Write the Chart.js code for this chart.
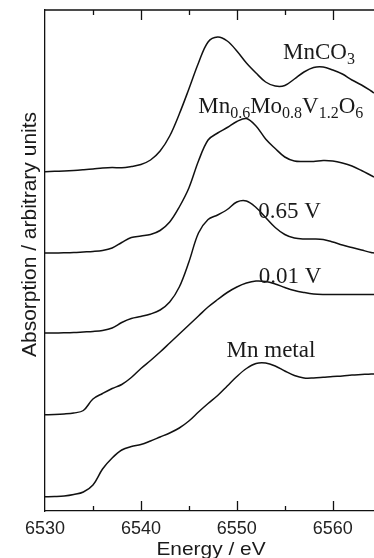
<!DOCTYPE html>
<html>
<head>
<meta charset="utf-8">
<script src="https://cdn.jsdelivr.net/npm/chart.js@4.4.1/dist/chart.umd.min.js"></script>
<style>
  html, body { margin: 0; padding: 0; background: #fff; overflow: hidden; }
  #wrap { width: 374px; height: 558px; }
</style>
</head>
<body>
<div id="wrap"><canvas id="myCanvas"></canvas></div>
<script>
// energy grid (eV), every 1 eV
const energy = [6530, 6531, 6532, 6533, 6534, 6535, 6536, 6537, 6538, 6539,
                6540, 6541, 6542, 6543, 6544, 6545, 6546, 6547, 6548, 6549,
                6550, 6551, 6552, 6553, 6554, 6555, 6556, 6557, 6558, 6559,
                6560, 6561, 6562, 6563, 6564, 6564.3];

// absorption, arbitrary units (curves are offset vertically as in the figure)
const mnco3 = [33.93, 33.97, 34.0, 34.05, 34.12, 34.2, 34.3, 34.35, 34.32, 34.45,
               34.65, 35.1, 36.0, 37.5, 39.7, 42.2, 44.8, 46.9, 47.4, 47.0,
               46.0, 44.8, 43.8, 42.9, 42.5, 42.55, 43.2, 43.9, 44.35, 44.4,
               44.1, 43.7, 43.1, 42.6, 42.0, 41.8];
const mnMoV = [25.8, 25.8, 25.82, 25.85, 25.9, 25.95, 26.05, 26.3, 26.85, 27.35,
               27.5, 27.65, 28.05, 28.9, 30.4, 32.3, 35.0, 37.1, 37.8, 38.35,
               38.95, 39.25, 38.5, 37.2, 36.25, 35.4, 35.0, 34.95, 34.95, 35.05,
               35.0, 34.8, 34.5, 34.05, 33.55, 33.4];
const v065 = [17.8, 17.8, 17.82, 17.85, 17.9, 17.95, 18.05, 18.3, 18.85, 19.25,
              19.45, 19.7, 20.1, 20.9, 22.4, 24.9, 27.8, 29.15, 29.6, 30.15,
              30.9, 31.0, 30.35, 29.35, 28.35, 27.65, 27.3, 27.2, 27.2, 27.15,
              26.9, 26.6, 26.35, 26.1, 25.85, 25.8];
const v001 = [9.63, 9.65, 9.7, 9.8, 10.05, 11.2, 11.75, 12.25, 12.65, 13.35,
              14.25, 15.05, 15.9, 16.8, 17.7, 18.6, 19.5, 20.4, 21.15, 21.85,
              22.4, 22.8, 23.0, 22.95, 22.7, 22.35, 22.05, 21.85, 21.7, 21.65,
              21.65, 21.65, 21.65, 21.65, 21.65, 21.65];
const mnMetal = [1.43, 1.45, 1.5, 1.65, 1.9, 2.6, 4.2, 5.3, 6.1, 6.45,
                 6.65, 7.0, 7.4, 7.8, 8.3, 9.0, 9.9, 10.75, 11.55, 12.5,
                 13.45, 14.25, 14.75, 14.8, 14.5, 14.0, 13.55, 13.3, 13.3, 13.37,
                 13.45, 13.5, 13.6, 13.65, 13.7, 13.7];

const tickLabels = [6530, 6540, 6550, 6560];
const minorTicks = [6535, 6545, 6555];

// curve labels: [text, isSubscript]
const curveLabels = [
  { x: 6554.82, y: 45.25, parts: [["MnCO", 0], ["3", 1]] },
  { x: 6545.97, y: 39.8, parts: [["Mn", 0], ["0.6", 1], ["Mo", 0], ["0.8", 1], ["V", 0], ["1.2", 1], ["O", 0], ["6", 1]] },
  { x: 6552.22, y: 29.3, parts: [["0.65 V", 0]] },
  { x: 6552.29, y: 22.8, parts: [["0.01 V", 0]] },
  { x: 6548.93, y: 15.4, parts: [["Mn metal", 0]] },
];

const toPoints = (arr) => energy.map((e, i) => ({ x: e, y: arr[i] }));
const series = [mnco3, mnMoV, v065, v001, mnMetal];

const decor = {
  id: "decor",
  afterDraw(chart) {
    const { ctx, chartArea: a, scales: { x, y } } = chart;
    ctx.save();
    ctx.strokeStyle = "#111";
    ctx.lineWidth = 1.3;
    ctx.beginPath();
    ctx.moveTo(a.left, a.top);
    ctx.lineTo(a.right, a.top);
    const tick = (v, len) => {
      const px = Math.round(x.getPixelForValue(v)) + 0.5;
      ctx.moveTo(px, a.top);
      ctx.lineTo(px, a.top + len);
      ctx.moveTo(px, a.bottom);
      ctx.lineTo(px, a.bottom - len);
    };
    tickLabels.slice(1).forEach((v) => tick(v, 10));
    minorTicks.forEach((v) => tick(v, 5));
    ctx.stroke();

    ctx.fillStyle = "#1a1a1a";
    ctx.textBaseline = "alphabetic";
    ctx.textAlign = "left";
    curveLabels.forEach((lab) => {
      let px = x.getPixelForValue(lab.x);
      const py = y.getPixelForValue(lab.y);
      lab.parts.forEach(([t, sub]) => {
        ctx.font = sub ? "16px 'Liberation Serif'" : "23px 'Liberation Serif'";
        ctx.fillText(t, px, py + (sub ? 5 : 0));
        px += ctx.measureText(t).width;
      });
    });

    ctx.textAlign = "center";
    ctx.save();
    ctx.translate(211, 555);
    ctx.scale(1.1, 1);
    ctx.font = "19px 'Liberation Sans'";
    ctx.fillText("Energy / eV", 0, 0);
    ctx.restore();

    ctx.save();
    ctx.translate(36, 234.5);
    ctx.rotate(-Math.PI / 2);
    ctx.font = "21px 'Liberation Sans'";
    ctx.fillText("Absorption / arbitrary units", 0, 0);
    ctx.restore();
    ctx.restore();
  },
};

new Chart(document.getElementById("myCanvas"), {
  type: "line",
  data: {
    datasets: series.map((s) => ({
      data: toPoints(s),
      borderColor: "#111",
      borderWidth: 1.5,
      pointRadius: 0,
      fill: false,
      tension: 0.35,
    })),
  },
  options: {
    responsive: true,
    maintainAspectRatio: false,
    animation: false,
    layout: { padding: { top: 10, right: 0, left: 0, bottom: 0 } },
    plugins: { legend: { display: false }, tooltip: { enabled: false } },
    scales: {
      x: {
        type: "linear",
        min: 6530,
        max: 6564.3,
        grid: { display: false, drawTicks: false },
        border: { display: true, color: "#111", width: 1.3 },
        afterBuildTicks: (scale) => { scale.ticks = tickLabels.map((v) => ({ value: v })); },
        afterFit: (scale) => { scale.height = 47; },
        ticks: {
          padding: 7,
          maxRotation: 0,
          color: "#222",
          font: { family: "'Liberation Sans'", size: 18 },
          callback: (v) => String(v),
        },
      },
      y: {
        min: 0,
        max: 50.1,
        grid: { display: false, drawTicks: false },
        border: { display: true, color: "#111", width: 1.3 },
        ticks: { display: false },
        afterFit: (scale) => { scale.width = 45; },
      },
    },
  },
  plugins: [decor],
});
</script>
</body>
</html>
